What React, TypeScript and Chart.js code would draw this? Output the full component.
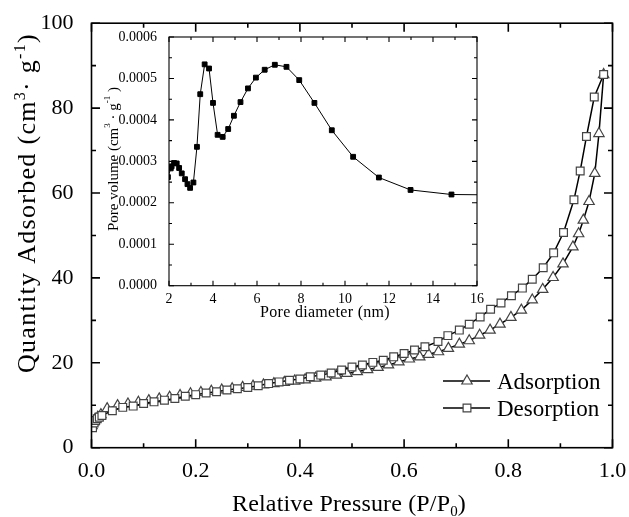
import React, { useEffect, useRef } from 'react';
import { Chart, registerables } from 'chart.js';

Chart.register(...registerables);

// ---------- data ----------
const desX = [0.002, 0.005, 0.008, 0.011, 0.015, 0.02, 0.04, 0.06, 0.08, 0.10, 0.12, 0.14, 0.16, 0.18, 0.20, 0.22, 0.24, 0.26, 0.28, 0.30, 0.32, 0.34, 0.36, 0.38, 0.40, 0.42, 0.44, 0.46, 0.48, 0.50, 0.52, 0.54, 0.56, 0.58, 0.60, 0.62, 0.64, 0.665, 0.684, 0.706, 0.725, 0.746, 0.766, 0.786, 0.806, 0.827, 0.846, 0.867, 0.887, 0.906, 0.926, 0.938, 0.950, 0.965, 0.983];
const desY = [4.7, 5.8, 6.4, 6.8, 7.2, 7.6, 8.7, 9.5, 9.8, 10.4, 10.8, 11.2, 11.6, 12.1, 12.5, 12.9, 13.2, 13.6, 13.9, 14.2, 14.6, 15.1, 15.5, 15.9, 16.2, 16.7, 17.1, 17.6, 18.3, 19.0, 19.5, 20.1, 20.6, 21.4, 22.2, 23.0, 23.8, 25.0, 26.4, 27.7, 29.1, 30.8, 32.6, 34.1, 35.8, 37.6, 39.7, 42.4, 45.9, 50.7, 58.4, 65.2, 73.3, 82.6, 87.9];

const adsX = [0.001, 0.004, 0.007, 0.012, 0.018, 0.03, 0.05, 0.07, 0.09, 0.11, 0.13, 0.15, 0.17, 0.19, 0.21, 0.23, 0.25, 0.27, 0.29, 0.31, 0.33, 0.35, 0.37, 0.39, 0.41, 0.43, 0.45, 0.47, 0.49, 0.51, 0.53, 0.55, 0.57, 0.59, 0.61, 0.63, 0.647, 0.666, 0.685, 0.706, 0.725, 0.745, 0.765, 0.784, 0.805, 0.825, 0.846, 0.866, 0.886, 0.905, 0.924, 0.935, 0.944, 0.955, 0.966, 0.974, 0.983];
const adsY = [5.2, 6.1, 6.7, 7.2, 7.8, 9.2, 9.9, 10.3, 10.7, 11.1, 11.5, 11.9, 12.3, 12.7, 13.0, 13.3, 13.6, 13.9, 14.2, 14.5, 14.8, 15.1, 15.4, 15.7, 16.0, 16.4, 16.7, 17.1, 17.5, 17.9, 18.4, 18.9, 19.5, 20.2, 20.9, 21.4, 22.0, 22.6, 23.4, 24.4, 25.2, 26.5, 27.7, 29.1, 30.7, 32.4, 34.8, 37.3, 40.1, 43.3, 47.3, 50.4, 53.6, 58.0, 64.6, 74.0, 87.9];

const poreX = [1.95, 2.08, 2.12, 2.23, 2.35, 2.46, 2.58, 2.73, 2.84, 2.96, 3.11, 3.27, 3.42, 3.62, 3.82, 4.0, 4.21, 4.44, 4.69, 4.95, 5.25, 5.59, 5.95, 6.35, 6.81, 7.34, 7.92, 8.61, 9.40, 10.37, 11.54, 12.98, 14.84, 16.9];
const poreY = [0.000262, 0.000283, 0.000288, 0.000296, 0.000295, 0.000284, 0.000271, 0.000257, 0.000245, 0.000236, 0.000249, 0.000335, 0.000462, 0.000534, 0.000524, 0.000441, 0.000364, 0.000359, 0.000378, 0.000410, 0.000443, 0.000476, 0.000502, 0.000521, 0.000533, 0.000528, 0.000496, 0.000441, 0.000375, 0.000311, 0.000261, 0.000231, 0.000220, 0.000219];

const mainXTicks = [0, 0.2, 0.4, 0.6, 0.8, 1.0];
const mainYTicks = [0, 20, 40, 60, 80, 100];
const insetXTicks = [2, 4, 6, 8, 10, 12, 14, 16];
const insetYTicks = [0, 0.0001, 0.0002, 0.0003, 0.0004, 0.0005, 0.0006];

const seriesNames = ['Adsorption', 'Desorption'];

const FONT = '"Liberation Serif", "DejaVu Serif", "Times New Roman", serif';
const W = 629;
const H = 517;

type Part = { t: string; size: number; dy?: number };

function drawRich(ctx: CanvasRenderingContext2D, parts: Part[], cx: number, cy: number, rot: number, target?: number) {
  ctx.save();
  ctx.translate(cx, cy);
  ctx.rotate(rot);
  ctx.fillStyle = '#000';
  ctx.textAlign = 'left';
  ctx.textBaseline = 'alphabetic';
  const c: any = ctx;
  c.letterSpacing = '0px';
  let total = 0;
  let chars = 0;
  for (const p of parts) {
    ctx.font = `${p.size}px ${FONT}`;
    total += ctx.measureText(p.t).width;
    chars += p.t.length;
  }
  let ls = 0;
  if (target && chars > 0) ls = Math.max(0, (target - total) / chars);
  c.letterSpacing = `${ls}px`;
  let x = -(total + ls * chars) / 2;
  for (const p of parts) {
    ctx.font = `${p.size}px ${FONT}`;
    ctx.fillText(p.t, x, p.dy || 0);
    x += ctx.measureText(p.t).width;
  }
  ctx.restore();
}

function frameTicks(opts: {
  lw: number; major: number; minor: number;
  xMin: number; xStep: number; xN: number; xEvery: number;
  yMin: number; yStep: number; yN: number; yEvery: number;
}) {
  return {
    id: 'frameTicks',
    afterDraw(chart: any) {
      const { ctx, chartArea: a, scales } = chart;
      const xs = scales.x;
      const ys = scales.y;
      ctx.save();
      ctx.strokeStyle = '#000';
      ctx.lineWidth = opts.lw;
      ctx.beginPath();
      for (let i = 0; i <= opts.xN; i++) {
        const v = opts.xMin + i * opts.xStep;
        const px = xs.getPixelForValue(v);
        const len = i % opts.xEvery === 0 ? opts.major : opts.minor;
        ctx.moveTo(px, a.bottom);
        ctx.lineTo(px, a.bottom - len);
        ctx.moveTo(px, a.top);
        ctx.lineTo(px, a.top + len);
      }
      for (let i = 0; i <= opts.yN; i++) {
        const v = opts.yMin + i * opts.yStep;
        const py = ys.getPixelForValue(v);
        const len = i % opts.yEvery === 0 ? opts.major : opts.minor;
        ctx.moveTo(a.left, py);
        ctx.lineTo(a.left + len, py);
        ctx.moveTo(a.right, py);
        ctx.lineTo(a.right - len, py);
      }
      ctx.stroke();
      ctx.strokeRect(a.left, a.top, a.right - a.left, a.bottom - a.top);
      ctx.restore();
    },
  };
}

const mainTitles = {
  id: 'mainTitles',
  afterDraw(chart: any) {
    const ctx = chart.ctx as CanvasRenderingContext2D;
    drawRich(ctx, [
      { t: 'Relative Pressure (P/P', size: 24 },
      { t: '0', size: 15, dy: 5 },
      { t: ')', size: 24 },
    ], 349, 511, 0, 234);
    drawRich(ctx, [
      { t: 'Quantity Adsorbed (cm', size: 26 },
      { t: '3', size: 16, dy: -10 },
      { t: '· g', size: 26 },
      { t: '-1', size: 16, dy: -10 },
      { t: ')', size: 26 },
    ], 35, 203, -Math.PI / 2, 340);

    const rows = [
      { name: seriesNames[0], y: 381, style: 'triangle' },
      { name: seriesNames[1], y: 408, style: 'rect' },
    ];
    ctx.save();
    for (const r of rows) {
      ctx.strokeStyle = '#000';
      ctx.lineWidth = 1.5;
      ctx.beginPath();
      ctx.moveTo(443, r.y);
      ctx.lineTo(490, r.y);
      ctx.stroke();
      ctx.fillStyle = '#fff';
      ctx.strokeStyle = '#444';
      ctx.lineWidth = 1.2;
      ctx.beginPath();
      if (r.style === 'triangle') {
        const rad = 6;
        for (let k = 0; k < 3; k++) {
          const ang = (k * 2 * Math.PI) / 3;
          const px = 467 + Math.sin(ang) * rad;
          const py = r.y - Math.cos(ang) * rad;
          if (k === 0) ctx.moveTo(px, py); else ctx.lineTo(px, py);
        }
        ctx.closePath();
      } else {
        const s = 5.5 * Math.SQRT1_2;
        ctx.rect(467 - s, r.y - s, 2 * s, 2 * s);
      }
      ctx.fill();
      ctx.stroke();
      ctx.fillStyle = '#000';
      ctx.font = `23px ${FONT}`;
      ctx.textAlign = 'left';
      ctx.textBaseline = 'alphabetic';
      ctx.fillText(r.name, 497, r.y + 8);
    }
    ctx.restore();
  },
};

const insetTitles = {
  id: 'insetTitles',
  afterDraw(chart: any) {
    const ctx = chart.ctx as CanvasRenderingContext2D;
    drawRich(ctx, [{ t: 'Pore diameter (nm)', size: 16 }], 325, 317, 0, 130);
    drawRich(ctx, [
      { t: 'Pore volume (cm', size: 15 },
      { t: '3', size: 9, dy: -8 },
      { t: ' · g', size: 15 },
      { t: '-1', size: 9, dy: -8 },
      { t: ' )', size: 15 },
    ], 118, 159, -Math.PI / 2);
  },
};

function setTicks(values: number[]) {
  return (scale: any) => {
    scale.ticks = values.map((v) => ({ value: v }));
  };
}

export default function App() {
  const mainRef = useRef<HTMLCanvasElement | null>(null);
  const insetRef = useRef<HTMLCanvasElement | null>(null);

  useEffect(() => {
    const mainChart = new Chart(mainRef.current as HTMLCanvasElement, {
      type: 'scatter',
      data: {
        datasets: [
          {
            label: seriesNames[1],
            data: desX.map((x, i) => ({ x, y: desY[i] })),
            showLine: true,
            borderColor: '#000',
            borderWidth: 1.5,
            pointStyle: 'rect',
            pointRadius: 5.5,
            pointBackgroundColor: '#fff',
            pointBorderColor: '#444',
            pointBorderWidth: 1.2,
          },
          {
            label: seriesNames[0],
            data: adsX.map((x, i) => ({ x, y: adsY[i] })),
            showLine: true,
            borderColor: '#000',
            borderWidth: 1.5,
            pointStyle: 'triangle',
            pointRadius: 6,
            pointBackgroundColor: '#fff',
            pointBorderColor: '#444',
            pointBorderWidth: 1.2,
          },
        ],
      },
      options: {
        responsive: false,
        animation: false,
        events: [],
        layout: { padding: { left: 0, top: 22.7, right: W - 612.5, bottom: 0 } },
        plugins: { legend: { display: false }, tooltip: { enabled: false } },
        scales: {
          x: {
            type: 'linear',
            min: 0,
            max: 1,
            grid: { display: false },
            border: { display: false },
            afterBuildTicks: setTicks(mainXTicks),
            afterFit: (s: any) => { s.height = H - 447.7; },
            ticks: {
              padding: 2,
              color: '#000',
              font: { family: FONT, size: 22 },
              callback: (v: any) => Number(v).toFixed(1),
            },
          },
          y: {
            type: 'linear',
            min: 0,
            max: 100,
            grid: { display: false },
            border: { display: false },
            afterBuildTicks: setTicks(mainYTicks),
            afterFit: (s: any) => { s.width = 91.5; },
            ticks: {
              padding: 10,
              color: '#000',
              font: { family: FONT, size: 22 },
              callback: (v: any) => String(v),
            },
          },
        },
      },
      plugins: [
        frameTicks({ lw: 1.6, major: 8.5, minor: 4.5, xMin: 0, xStep: 0.1, xN: 10, xEvery: 2, yMin: 0, yStep: 10, yN: 10, yEvery: 2 }),
        mainTitles,
      ],
    } as any);

    const insetChart = new Chart(insetRef.current as HTMLCanvasElement, {
      type: 'scatter',
      data: {
        datasets: [
          {
            label: 'Pore volume',
            data: poreX.map((x, i) => ({ x, y: poreY[i] })),
            showLine: true,
            borderColor: '#000',
            borderWidth: 1,
            pointStyle: 'rect',
            pointRadius: 3.4,
            pointBackgroundColor: '#000',
            pointBorderColor: '#000',
            pointBorderWidth: 1,
          },
        ],
      },
      options: {
        responsive: false,
        animation: false,
        events: [],
        layout: { padding: { left: 0, top: 37, right: W - 477, bottom: 0 } },
        plugins: { legend: { display: false }, tooltip: { enabled: false } },
        scales: {
          x: {
            type: 'linear',
            min: 2,
            max: 16,
            grid: { display: false },
            border: { display: false },
            afterBuildTicks: setTicks(insetXTicks),
            afterFit: (s: any) => { s.height = H - 285.7; },
            ticks: {
              padding: -3,
              color: '#000',
              font: { family: FONT, size: 14 },
              callback: (v: any) => String(v),
            },
          },
          y: {
            type: 'linear',
            min: 0,
            max: 0.0006,
            grid: { display: false },
            border: { display: false },
            afterBuildTicks: setTicks(insetYTicks),
            afterFit: (s: any) => { s.width = 169; },
            ticks: {
              padding: 4,
              color: '#000',
              font: { family: FONT, size: 14 },
              callback: (v: any) => Number(v).toFixed(4),
            },
          },
        },
      },
      plugins: [
        frameTicks({ lw: 1.1, major: 5, minor: 3, xMin: 2, xStep: 1, xN: 14, xEvery: 2, yMin: 0, yStep: 0.00005, yN: 12, yEvery: 2 }),
        insetTitles,
      ],
    } as any);

    return () => {
      mainChart.destroy();
      insetChart.destroy();
    };
  }, []);

  return (
    <div style={{ position: 'absolute', left: 0, top: 0, width: W, height: H, background: '#fff' }}>
      <canvas ref={mainRef} width={W} height={H} style={{ position: 'absolute', left: 0, top: 0, display: 'block' }} />
      <canvas ref={insetRef} width={W} height={H} style={{ position: 'absolute', left: 0, top: 0, display: 'block' }} />
    </div>
  );
}
